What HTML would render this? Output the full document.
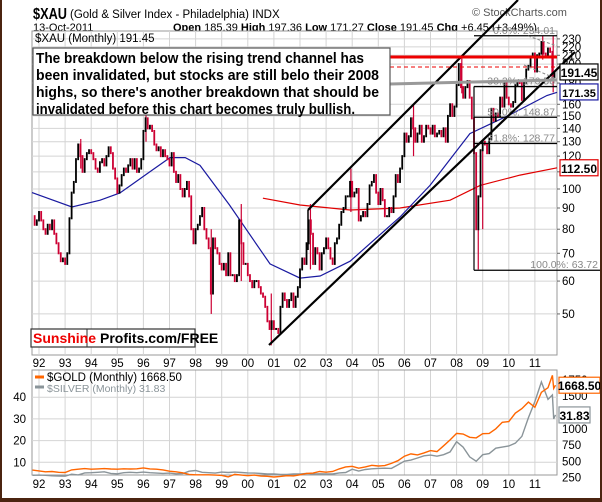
<!DOCTYPE html>
<html><head><meta charset="utf-8">
<style>
html,body{margin:0;padding:0;background:#fff;}
#wrap{position:relative;width:598px;height:498px;border:2px solid #4b2410;border-top:none;border-bottom-width:4px;overflow:hidden;background:#fff;}
svg{position:absolute;left:-2px;top:0;}
text{font-family:"Liberation Sans","DejaVu Sans",sans-serif;}
</style></head>
<body>
<div id="wrap">
<svg id="chart" width="602" height="502" viewBox="0 0 602 502" xmlns="http://www.w3.org/2000/svg">
  <text x="33" y="19" font-size="16" font-weight="bold" textLength="34" lengthAdjust="spacingAndGlyphs">$XAU</text>
  <text x="70" y="18" font-size="11.5">(Gold &amp; Silver Index - Philadelphia) INDX</text>
  <text x="472" y="16" font-size="11" fill="#555">© StockCharts.com</text>
  <text x="33" y="31" font-size="11">13-Oct-2011</text>
  <text x="173" y="31" font-size="11"><tspan font-weight="bold">Open</tspan> 185.39 <tspan font-weight="bold">High</tspan> 197.36 <tspan font-weight="bold">Low</tspan> 171.27 <tspan font-weight="bold">Close</tspan> 191.45 <tspan font-weight="bold">Chg</tspan> +6.45 (+3.49%)</text>
  <g id="main"></g>
  <g id="lower"></g>
</svg>
</div>
<script>
// ===== XAU monthly closes from Oct 1991 =====
const xauStart = 1991.75;
const xauClose = [
86,82,84,
88,84,80,78,82,80,84,78,74,70,67,68,
66,70,85,98,104,118,128,120,110,118,122,124,
122,118,112,110,116,118,114,120,126,122,112,106,
98,102,108,112,110,114,118,112,118,110,112,118,
138,148,140,142,138,128,124,126,120,124,120,118,
114,122,110,104,108,100,96,100,104,96,80,74,
80,82,86,90,80,76,72,56,76,72,70,66,
64,66,62,70,62,62,60,62,84,74,66,66,
62,60,58,60,60,58,56,55,52,48,46,48,
46,46,45,52,56,54,52,54,56,52,55,58,
64,68,66,74,84,78,66,72,70,64,70,72,
76,72,68,66,74,76,82,88,90,96,96,104,
96,98,100,84,86,88,86,92,102,104,108,98,
92,100,94,86,86,90,88,96,108,104,112,120,
136,130,134,148,140,130,136,142,130,134,142,140,
136,142,134,136,138,134,140,130,150,160,150,158,
178,200,176,166,176,182,166,148,122,80,96,124,
130,128,122,132,156,146,152,150,166,158,182,166,
160,158,162,178,182,180,164,180,194,198,208,212,
192,210,212,226,212,208,218,214,186,191.45
];
// notable monthly extremes (wicks)
const wickDates = [1993.6,1996.1,1998.6,1999.75,2000.9,2002.4,2003.95,2006.35,2008.2,2008.83,2009.0,2011.3,2011.7];
const wickHigh  = [132,152,80,92,56,92,112,160,210,90,130,234,234];
const wickLow   = [112,130,50,60,42,64,88,120,170,64,80,205,171];
const ma50Dates = [1991.73,1993.26,1994.34,1995.1,1996.25,1997.02,1997.6,1998.17,1999.3,2000.85,2002.0,2002.77,2003.92,2005.83,2006.98,2008.51,2010.05,2011.46,2011.85];
const ma50Vals  = [98,90.5,94,97.8,110,119,119,114,91.5,66,61,61.7,67,85.6,102,136,151,168,171];
const ma200Dates = [2000.58,2002.0,2003.92,2005.83,2007.75,2008.9,2010.43,2011.85];
const ma200Vals  = [95,91.5,89,90,94,102,108,112.5];
const priceTicks = [230,220,210,200,180,160,150,140,130,120,110,100,90,80,70,60,50];
const yearLabels = ["92","93","94","95","96","97","98","99","00","01","02","03","04","05","06","07","08","09","10","11"];
const fibLevels = [234.01,176.56,148.87,128.77,63.72];
const fibLabels = ["0.0%: 234.01","38.2%: 176.56","50.0%: 148.87","61.8%: 128.77","100.0%: 63.72"];
// ===== Gold / Silver =====
const gsDates = [1991.75,
1992,1992.25,1992.5,1992.75,1993,1993.25,1993.5,1993.75,1994,1994.25,1994.5,1994.75,
1995,1995.25,1995.5,1995.75,1996,1996.25,1996.5,1996.75,1997,1997.25,1997.5,1997.75,
1998,1998.25,1998.5,1998.75,1999,1999.25,1999.5,1999.75,2000,2000.25,2000.5,2000.75,
2001,2001.25,2001.5,2001.75,2002,2002.25,2002.5,2002.75,2003,2003.25,2003.5,2003.75,
2004,2004.25,2004.5,2004.75,2005,2005.25,2005.5,2005.75,2006,2006.25,2006.5,2006.75,
2007,2007.25,2007.5,2007.75,2008,2008.25,2008.5,2008.75,2009,2009.25,2009.5,2009.75,
2010,2010.25,2010.5,2010.75,2011,2011.25,2011.5,2011.67,2011.72,2011.79];
const goldVals = [366,
354,340,345,333,330,370,380,390,380,385,390,383,
380,387,383,387,400,385,380,370,350,340,325,300,
295,295,295,290,285,262,300,290,280,290,275,272,
260,270,280,277,295,315,320,345,335,345,385,415,
425,395,415,440,430,435,470,510,580,615,600,630,
665,650,740,830,930,920,870,860,925,930,1000,1100,
1110,1240,1310,1410,1330,1560,1630,1820,1620,1668.5];
const silverVals = [4.0,
4.1,4.0,3.8,3.7,3.6,4.5,4.2,5.1,5.2,5.4,5.6,4.9,
4.7,5.2,5.4,5.2,5.5,5.2,5.0,4.9,5.0,4.7,4.8,5.9,
6.2,5.4,5.2,5.0,5.5,5.3,5.5,5.3,5.1,5.0,4.9,4.6,
4.6,4.4,4.4,4.6,4.6,4.9,4.6,4.7,4.6,4.6,5.1,5.3,
6.8,6.0,6.7,7.0,7.2,7.3,7.2,8.8,10.5,11.0,12.0,13.0,
13.3,12.8,13.5,14.8,19.5,17.0,12.5,10.5,13.5,14,16.5,17,
17.5,18.8,22,30.5,38,47,39,41,30,31.83];
const silverTicks = [10,20,30,40];
const goldTicks = [250,500,750,1000,1500,1750];

const NS = "http://www.w3.org/2000/svg";
const L = 32, R = 557;
const MT = 31, MB = 355, LT = 370, LB = 475;
const xOf = yr => 39 + (yr - 1992) * 26.1;
const yP = v => 189 - 415 * Math.log10(v / 100);
const yS = v => 484 - 2.17 * v;
const yG = v => 494 - 0.0652 * v;

function mk(tag, attrs, parent) {
  const e = document.createElementNS(NS, tag);
  for (const k in attrs) e.setAttribute(k, attrs[k]);
  parent.appendChild(e);
  return e;
}
const main = document.getElementById('main');
const lower = document.getElementById('lower');

let fr = mk('rect', {x:L, y:MT, width:R-L, height:MB-MT, fill:'#fff', stroke:'#999'}, main);


priceTicks.forEach(v => {
  const y = yP(v);
  let g = mk('line', {x1:L, x2:R, y1:y, y2:y, stroke:'#d4d4d4', 'stroke-width':1}, main);
  
  
  let t = mk('text', {x:R+5, y:y+4, 'font-size':11.5}, main);
  t.textContent = v;
  
  
  let tk = mk('line', {x1:R, x2:R+3, y1:y, y2:y, stroke:'#666'}, main);
  
  
});
yearLabels.forEach((lab, i) => {
  const x = xOf(1992 + i);
  let g = mk('line', {x1:x, x2:x, y1:MT, y2:MB, stroke:'#d4d4d4'}, main);
  
  
  let g2 = mk('line', {x1:x, x2:x, y1:LT, y2:LB, stroke:'#d4d4d4'}, lower);
  
  
  let t = mk('text', {x:x, y:367, 'font-size':11.5, 'text-anchor':'middle'}, main);
  t.textContent = lab;
  
  
  let t2 = mk('text', {x:x, y:488, 'font-size':11.5, 'text-anchor':'middle'}, lower);
  t2.textContent = lab;
  
  
});

function pathFrom(ds, vs, yf) {
  return ds.map((d, i) => (i ? 'L' : 'M') + xOf(d).toFixed(1) + ' ' + yf(vs[i]).toFixed(1)).join(' ');
}
let m200 = mk('path', {d:pathFrom(ma200Dates, ma200Vals, yP), fill:'none', stroke:'#e00000', 'stroke-width':1.2}, main);


let m50 = mk('path', {d:pathFrom(ma50Dates, ma50Vals, yP), fill:'none', stroke:'#1a1aa0', 'stroke-width':1.2}, main);



// wicks
wickDates.forEach((d, i) => {
  let w = mk('line', {x1:xOf(d), x2:xOf(d), y1:yP(wickHigh[i]), y2:yP(wickLow[i]), stroke:'#cc0033', 'stroke-width':1.2}, main);
  
  
});
// candles
xauClose.forEach((c, i) => {
  if (i === 0) return;
  const o = xauClose[i - 1];
  const x = xOf(xauStart + i / 12);
  const y1 = yP(Math.max(o, c)), y2 = yP(Math.min(o, c));
  let b = mk('rect', {x:x - 0.9, y:y1 - 1, width:1.8, height:Math.max(2, y2 - y1 + 2), fill: c >= o ? '#000' : '#cc0033'}, main);
  
  
});

fibLevels.forEach((v, i) => {
  const y = yP(v);
  let l = mk('line', {x1:474, x2: i === 4 ? 600 : R, y1:y, y2:y, stroke:'#000', 'stroke-width':1.3}, main);
  
  
  let t = mk('text', {x: i === 4 ? 598 : R - 2, y:y - 2, 'font-size':10.5, fill:'#888', 'text-anchor':'end'}, main);
  t.textContent = fibLabels[i];
  
  
});
let fv = mk('line', {x1:474, x2:474, y1:yP(176.56), y2:yP(63.72), stroke:'#000', 'stroke-width':1.2}, main);



const ann = [
  ['channel-lower', 269,345, 575,52, '#000', 2.2, ''],
  ['channel-upper', 308,210, 518,0, '#000', 2.2, ''],
  ['channel-start', 308,210, 308,250, '#000', 1.5, ''],
  ['resistance-red', 390,57, 557,57, '#ee0000', 3, ''],
  ['resistance-dashed', 390,67, 557,67, '#ee0000', 1, '4,3'],
  ['wedge-top', 528,36, 557,46, '#888', 1, '3,2'],
  ['wedge-bottom', 524,65, 557,79, '#888', 1, '3,2'],
  ['grey-support', 390,84, 557,80, '#999', 3, '']
];
ann.forEach(a => {
  let l = mk('line', {x1:a[1], y1:a[2], x2:a[3], y2:a[4], stroke:a[5], 'stroke-width':a[6], 'stroke-dasharray':a[7]}, main);
  
  
});

let lg = mk('text', {x:35, y:42, 'font-size':11.5, 'font-family':'DejaVu Sans'}, main);
lg.textContent = '$XAU (Monthly) 191.45';



let bx = mk('rect', {x:33, y:48, width:357, height:67, fill:'#fff', stroke:'#555', 'stroke-width':1.2}, main);


const noteLines = ["The breakdown below the rising trend channel has","been invalidated, but stocks are still belo their 2008","highs, so there's another breakdown that should be","invalidated before this chart becomes truly bullish."];
const noteW = [328, 343, 343, 319];
noteLines.forEach((s, i) => {
  let t = mk('text', {x:36, y:63 + i * 17, 'font-size':14.5, 'font-weight':'bold', textLength:noteW[i], lengthAdjust:'spacingAndGlyphs'}, main);
  t.textContent = s;
  
  
});

function tag(name, x, y, w, txt, col, parent, fs) {
  let r = mk('rect', {x:x, y:y - 8, width:w, height:16, fill:'#fff', stroke:col, 'stroke-width':1.2}, parent);
  
  
  let t = mk('text', {x:x + w / 2, y:y + 5, 'font-size':fs, 'font-weight':'bold', 'text-anchor':'middle'}, parent);
  t.textContent = txt;
  
  
}
tag('last-price-tag', 560, yP(191.45), 38, '191.45', '#000', main, 12);
tag('ma50-tag', 560, yP(171.35), 38, '171.35', '#1a1aa0', main, 11);
tag('ma200-tag', 560, yP(112.5), 38, '112.50', '#e00000', main, 12);

let sb = mk('rect', {x:31, y:329, width:164, height:18, fill:'#fff', stroke:'#333', 'stroke-width':1.2}, main);


let sbd = mk('line', {x1:87, x2:87, y1:329, y2:347, stroke:'#333'}, main);


let st = mk('text', {x:33, y:343, 'font-size':14, 'font-weight':'bold'}, main);
st.innerHTML = '<tspan fill="#ee0000">Sunshine</tspan><tspan dx="4" fill="#000">Profits.com/FREE</tspan>';



let lf = mk('rect', {x:L, y:LT, width:R-L, height:LB-LT, fill:'none', stroke:'#999'}, lower);


silverTicks.forEach(v => {
  const y = yS(v);
  let g = mk('line', {x1:L, x2:R, y1:y, y2:y, stroke:'#d4d4d4'}, lower);
  
  
  let t = mk('text', {x:26, y:y + 4, 'font-size':11.5, 'text-anchor':'end'}, lower);
  t.textContent = v;
  
  
});
goldTicks.forEach(v => {
  const y = yG(v);
  let t = mk('text', {x:R + 5, y:y + 4, 'font-size':11.5}, lower);
  t.textContent = v;
  
  
});
let sp = mk('path', {d:pathFrom(gsDates, silverVals, yS), fill:'none', stroke:'#8a9499', 'stroke-width':1.4}, lower);


let gp = mk('path', {d:pathFrom(gsDates, goldVals, yG), fill:'none', stroke:'#ff6600', 'stroke-width':1.4}, lower);


let gl1 = mk('line', {x1:35, x2:44, y1:377, y2:377, stroke:'#ff6600', 'stroke-width':3}, lower);


let gt1 = mk('text', {x:47, y:381, 'font-size':11.5, 'font-family':'DejaVu Sans'}, lower);
gt1.textContent = '$GOLD (Monthly) 1668.50';


let gl2 = mk('line', {x1:35, x2:44, y1:387, y2:387, stroke:'#8a9499', 'stroke-width':3}, lower);


let gt2 = mk('text', {x:47, y:392, 'font-size':10.5, fill:'#8a9499'}, lower);
gt2.textContent = '$SILVER (Monthly) 31.83';


tag('gold-last-tag', 559, yG(1668.5), 41, '1668.50', '#ff6600', lower, 12);
tag('silver-last-tag', 559, yS(31.83), 31, '31.83', '#8a9499', lower, 12);
</script>
</body></html>
